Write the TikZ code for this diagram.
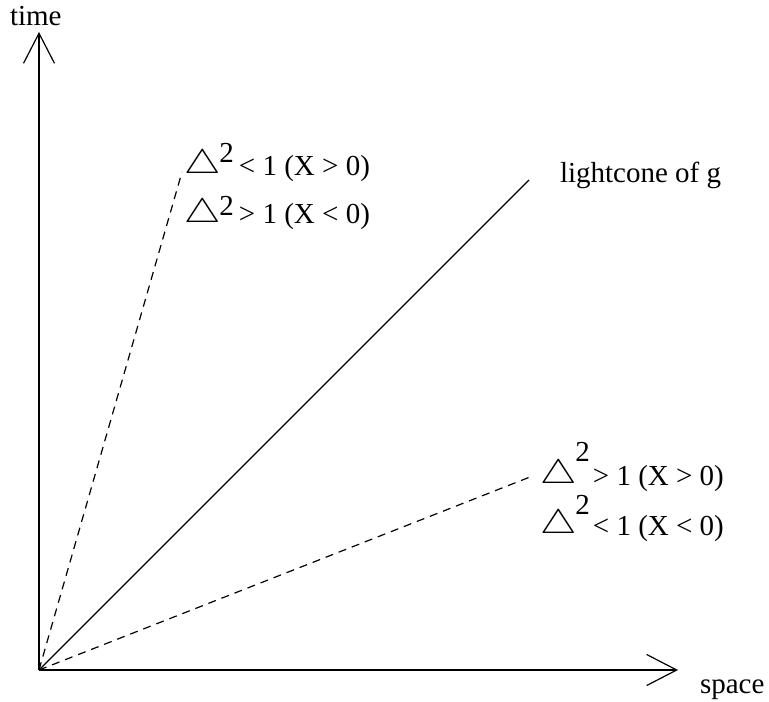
\documentclass[tikz,border=0pt]{standalone}
\usepackage{fontspec}
\setmainfont{Liberation Serif}
\usetikzlibrary{arrows.meta}
\newcommand\drow[5]{\raisebox{#1pt}{\scalebox{4.1}[3.4]{\normalsize$\triangle$}}\hspace{#2pt}\raisebox{#3pt}{2}\hspace{#4pt}#5}
\tikzset{
  lbl/.style={anchor=base west,inner sep=0pt,outer sep=0pt,font=\fontsize{29}{34}\selectfont},
  axis/.style={line width=1.2pt,-{Straight Barb[length=30pt,width=31pt,line width=1.2pt]}},
  cone/.style={line width=1.2pt},
  dsh/.style={line width=1.2pt,dash pattern=on 8pt off 6pt}
}
\begin{document}
\begin{tikzpicture}[x=1pt,y=-1pt]
\useasboundingbox (0,0) rectangle (769,702);
\coordinate (O) at (39,670);
\coordinate (T) at (39,32);
\coordinate (S) at (678,670);
\coordinate (L) at (529,180);
\coordinate (U) at (182,172);
\coordinate (D) at (530,477);
\draw[axis] (O) -- (T);
\draw[axis] (O) -- (S);
\draw[cone] (O) -- (L);
\draw[dsh] (O) -- (U);
\draw[dsh] (O) -- (D);
\node[lbl] (time) at (10,25) {time};
\node[lbl] (space) at (700,693) {space};
\node[lbl] (lc) at (560,182) {lightcone of g};
\node[lbl] (u1) at (184,175) {\drow{2}{-1}{13}{5}{< 1 (X > 0)}};
\node[lbl] (u2) at (184,223) {\drow{1}{-1}{8}{5}{> 1 (X < 0)}};
\node[lbl] (d1) at (540,485) {\drow{2}{-1}{24}{3}{> 1 (X > 0)}};
\node[lbl] (d2) at (540,535) {\drow{2}{-1}{21}{3}{< 1 (X < 0)}};
\end{tikzpicture}
\end{document}
